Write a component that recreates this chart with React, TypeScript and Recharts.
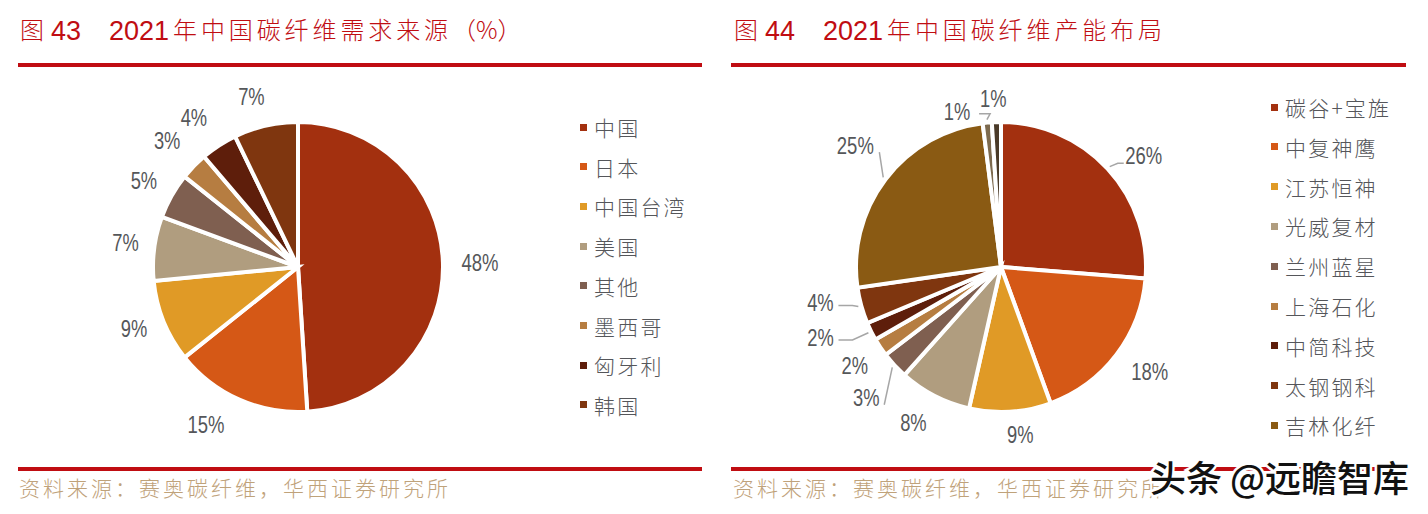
import { Cell, Pie, PieChart } from "recharts";

const demandNames = ["中国", "日本", "中国台湾", "美国", "其他", "墨西哥", "匈牙利", "韩国"];
const demandValues = [48, 15, 9, 7, 5, 3, 4, 7];
const demandColors = ["#A3300F", "#D55816", "#E09A26", "#B09D7F", "#7F5F50", "#B67D41", "#5E1E0B", "#7F360F"];
const demandNudges = [[4, 2], [-20, -5], [1, -5], [4, -1], [1, 1], [-3, -2], [-7, 0], [-7, 4]];

// the last two names sit under the watermark and can't be read
const capacityNames = ["碳谷+宝旌", "中复神鹰", "江苏恒神", "光威复材", "兰州蓝星", "上海石化", "中简科技", "太钢钢科", "吉林化纤", "其他一", "其他二"];
const capacityValues = [26, 18, 9, 8, 3, 2, 2, 4, 25, 1, 1];
const capacityColors = ["#A3300F", "#D55816", "#E09A26", "#B09D7F", "#7F5F50", "#B67D41", "#5E1E0B", "#7F360F", "#8A5A13", "#7D6A4E", "#4A3A28"];
const capacityNudges = [[12, 10], [7, -3], [8, -10], [-6, -2], [-4, 10], [2, 0], [-21, -8], [-9, -11], [-4, -13], [-27, 22], [-2, 10]];
const capacityLegendCount = 9;

// tip offset from the label centre, then length of the flat stub
const capacityLeaders: Record<number, number[]> = {
  0: [-20, 7, -6],
  4: [18, 7, 0],
  6: [18, 2, 14],
  7: [18, 2, 14],
  8: [24, 6, 0],
  9: [22, 2, 11],
};

const CJK = '"Noto Sans CJK SC", sans-serif';
const LATIN = '"Liberation Sans", sans-serif';
const RED = "#C00D12";
const LABEL_RADIUS = 178;
const RAD = Math.PI / 180;

function makeLabel(nudges: number[][], leaders: Record<number, number[]>) {
  return (props: any) => {
    const { cx, cy, midAngle, outerRadius, index, value } = props;
    const ux = Math.cos(-midAngle * RAD);
    const uy = Math.sin(-midAngle * RAD);
    const x = cx + LABEL_RADIUS * ux + nudges[index][0];
    const y = cy + LABEL_RADIUS * uy + nudges[index][1];
    const leader = leaders[index];
    let points = "";
    if (leader) {
      const tipX = x + leader[0];
      const tipY = y + leader[1];
      const edge = `${cx + (outerRadius + 3) * ux},${cy + (outerRadius + 3) * uy}`;
      points = leader[2] ? `${tipX},${tipY} ${tipX + leader[2]},${tipY} ${edge}` : `${tipX},${tipY} ${edge}`;
    }
    // no narrow face installed, so squeeze the glyphs to the reference width
    const textWidth = String(value).length * 10.5 + 16;
    return (
      <g>
        {leader && <polyline points={points} fill="none" stroke="#A6A6A6" strokeWidth={1.5} />}
        <text
          x={x}
          y={y}
          textAnchor="middle"
          dominantBaseline="central"
          fontFamily={LATIN}
          fontSize={23}
          fill="#55575A"
          textLength={textWidth}
          lengthAdjust="spacingAndGlyphs"
        >
          {`${value}%`}
        </text>
      </g>
    );
  };
}

function PiePanel({ left, names, values, colors, nudges, leaders }: any) {
  const data = names.map((name: string, i: number) => ({ name, value: values[i] }));
  return (
    <div style={{ position: "absolute", left, top: 0 }}>
      <PieChart width={700} height={514} margin={{ top: 0, right: 0, bottom: 0, left: 0 }}>
        <Pie
          data={data}
          dataKey="value"
          nameKey="name"
          cx={298}
          cy={267}
          outerRadius={145}
          startAngle={90}
          endAngle={-270}
          stroke="#fff"
          strokeWidth={4}
          label={makeLabel(nudges, leaders)}
          labelLine={false}
          isAnimationActive={false}
        >
          {data.map((d: any, i: number) => (
            <Cell key={d.name} fill={colors[i]} />
          ))}
        </Pie>
      </PieChart>
    </div>
  );
}

function LegendList({ names, colors, left, top, step }: any) {
  return (
    <>
      {names.map((name: string, i: number) => (
        <div
          key={name}
          style={{ position: "absolute", left, top: top + i * step - 15, height: 30, display: "flex", alignItems: "center", whiteSpace: "nowrap" }}
        >
          <span style={{ width: 7, height: 7, background: colors[i], marginRight: 7 }} />
          <span style={{ fontFamily: CJK, fontSize: 21, fontWeight: 300, letterSpacing: 2.2, color: "#55565A" }}>{name}</span>
        </div>
      ))}
    </>
  );
}

function Heading({ left, fig, text, suffix }: any) {
  const base: any = { position: "absolute", top: 14, lineHeight: "34px", color: RED, whiteSpace: "nowrap", fontFamily: CJK, fontSize: 24, fontWeight: 300 };
  return (
    <span style={base}>
      <span style={{ position: "absolute", left: left + 2, top: -2 }}>图</span>
      <span style={{ position: "absolute", left: left + 33, fontFamily: LATIN, fontSize: 27 }}>{fig}</span>
      <span style={{ position: "absolute", left: left + 91, fontFamily: LATIN, fontSize: 27 }}>2021</span>
      <span style={{ position: "absolute", left: left + 155, top: -2, letterSpacing: 3.9 }}>
        {text}
        {suffix && <span style={{ letterSpacing: 0 }}>{suffix}</span>}
      </span>
    </span>
  );
}

function Rule({ left, width, top }: any) {
  return <div style={{ position: "absolute", left, width, top, height: 4, background: RED }} />;
}

function Source({ left }: any) {
  return (
    <div style={{ position: "absolute", left, top: 472, lineHeight: "30px", fontFamily: CJK, fontSize: 21, fontWeight: 300, letterSpacing: 3, color: "#BFA27A", whiteSpace: "nowrap" }}>
      资料来源：赛奥碳纤维，华西证券研究所
    </div>
  );
}

export default function App() {
  return (
    <div style={{ position: "absolute", left: 0, top: 0, width: 1428, height: 514, background: "#fff", overflow: "hidden" }}>
      <Heading left={18} fig="43" text="年中国碳纤维需求来源" suffix="（%）" />
      <Heading left={732} fig="44" text="年中国碳纤维产能布局" />
      <Rule left={18} width={684} top={63} />
      <Rule left={731} width={675} top={63} />

      <PiePanel left={0} names={demandNames} values={demandValues} colors={demandColors} nudges={demandNudges} leaders={{}} />
      <PiePanel left={703} names={capacityNames} values={capacityValues} colors={capacityColors} nudges={capacityNudges} leaders={capacityLeaders} />

      <LegendList names={demandNames} colors={demandColors} left={580} top={127} step={39.7} />
      <LegendList names={capacityNames.slice(0, capacityLegendCount)} colors={capacityColors} left={1271} top={107} step={39.8} />

      <Rule left={18} width={684} top={467} />
      <Rule left={731} width={675} top={467} />
      <Source left={19} />
      <Source left={733} />

      <div
        style={{
          position: "absolute",
          left: 1150,
          top: 456,
          lineHeight: "40px",
          fontFamily: CJK,
          fontSize: 36,
          fontWeight: 500,
          color: "#111",
          whiteSpace: "nowrap",
          WebkitTextStroke: "5px #fff",
          paintOrder: "stroke fill",
        }}
      >
        头条 @远瞻智库
      </div>
    </div>
  );
}
